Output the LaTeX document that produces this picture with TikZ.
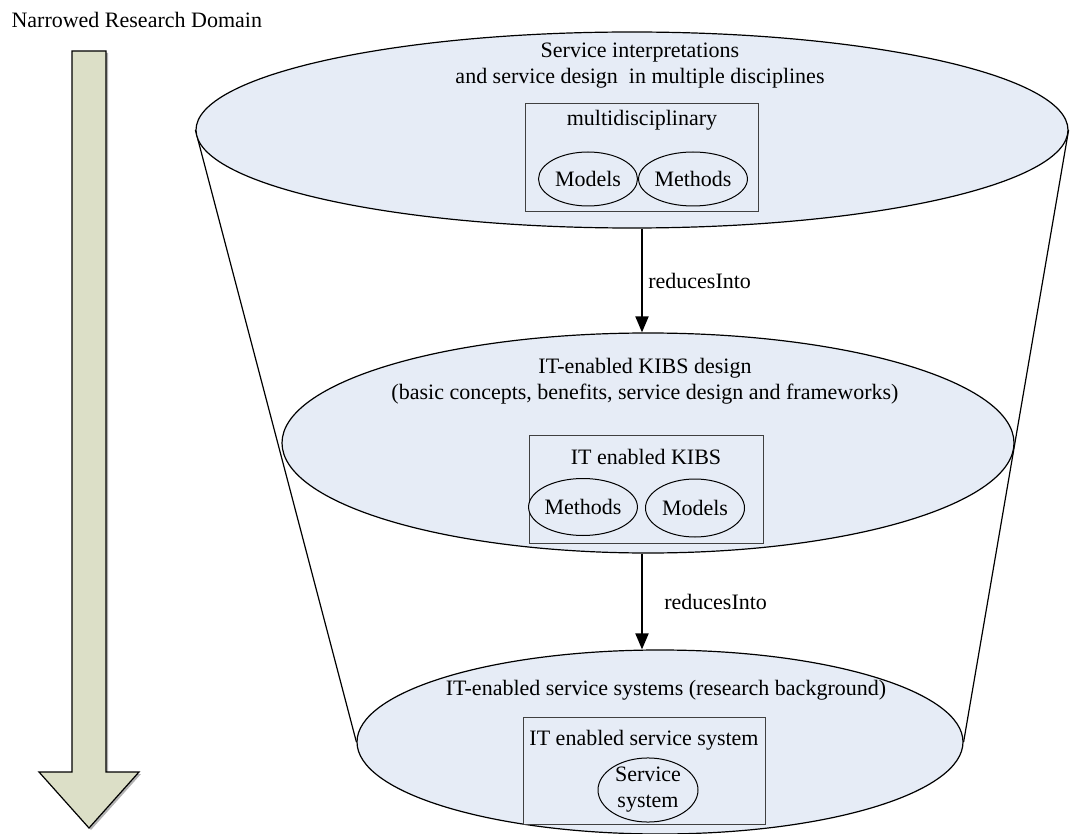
\documentclass[tikz,border=0pt]{standalone}
\usepackage{fontspec}
\setmainfont{Liberation Serif}
\usetikzlibrary{shapes.geometric,arrows.meta,backgrounds}
\definecolor{layerblue}{HTML}{E6ECF6}
\definecolor{arrowolive}{HTML}{DCDFC7}

\begin{document}
\begin{tikzpicture}[x=1pt,y=-1pt,
  every node/.style={font=\fontsize{22}{26}\selectfont},
  layer/.style={ellipse, draw=black, fill=layerblue, line width=1.2pt, inner sep=0pt},
  frame/.style={rectangle, draw=black!75, fill=layerblue, line width=1pt, inner sep=0pt},
  part/.style={ellipse, draw=black, fill=layerblue, line width=1pt, inner sep=0pt, align=center},
  flow/.style={line width=2pt, -{Triangle[length=16pt,width=13pt]}}]
\useasboundingbox (0,0) rectangle (1071,834);

\node[anchor=west] (domain) at (8,20) {Narrowed Research Domain};
\fill[black!30] (74,53) -- (108,53) -- (108,774) -- (141,774) -- (91,830) -- (41,774) -- (74,774) -- cycle;
\filldraw[fill=arrowolive, draw=black, line width=1.2pt] (72,51) -- (106,51) -- (106,772) -- (139,772) -- (89,828) -- (39,772) -- (72,772) -- cycle;

% the three layers of the funnel
\node[layer, minimum width=872, minimum height=196] (top) at (632,130) {};
\node[layer, minimum width=732, minimum height=220] (mid) at (648,443) {};
\node[layer, minimum width=606, minimum height=184] (bot) at (660,742) {};
\begin{scope}[on background layer]
\draw[line width=1.2pt] (top.west) -- (bot.west);
\draw[line width=1.2pt] (top.east) -- (bot.east);
\end{scope}

\node[align=center] (toptext) at (640,66) {Service interpretations\\and service design~~in multiple disciplines};
\node[frame, minimum width=233, minimum height=108] (box1) at (642,158) {};
\node (box1lbl) at (642,120) {multidisciplinary};
\node[part, minimum width=99, minimum height=54] (models1) at (588,179) {Models};
\node[part, minimum width=100, minimum height=54] (methods1) at (693,179) {Methods};

\node[align=center] (midtext) at (645,381) {IT-enabled KIBS design\\(basic concepts, benefits, service design and frameworks)};
\node[frame, minimum width=234, minimum height=108] (box2) at (646,489) {};
\node (box2lbl) at (646,457) {IT enabled KIBS};
\node[part, minimum width=99, minimum height=57] (methods2) at (583,507) {Methods};
\node[part, minimum width=99, minimum height=58] (models2) at (695,508) {Models};

\node (bottext) at (666,690) {IT-enabled service systems (research background)};
\node[frame, minimum width=242, minimum height=107] (box3) at (644,771) {};
\node (box3lbl) at (644,740) {IT enabled service system};
\node[part, minimum width=100, minimum height=56] (service) at (648,790) {Service\\system};

\draw[flow] (box1.south |- top.south) -- (box1.south |- mid.north) node[midway, right, xshift=2pt] {reducesInto};
\draw[flow] (box1.south |- mid.south) -- (box1.south |- bot.north) node[midway, right, xshift=18pt] {reducesInto};
\end{tikzpicture}
\end{document}
